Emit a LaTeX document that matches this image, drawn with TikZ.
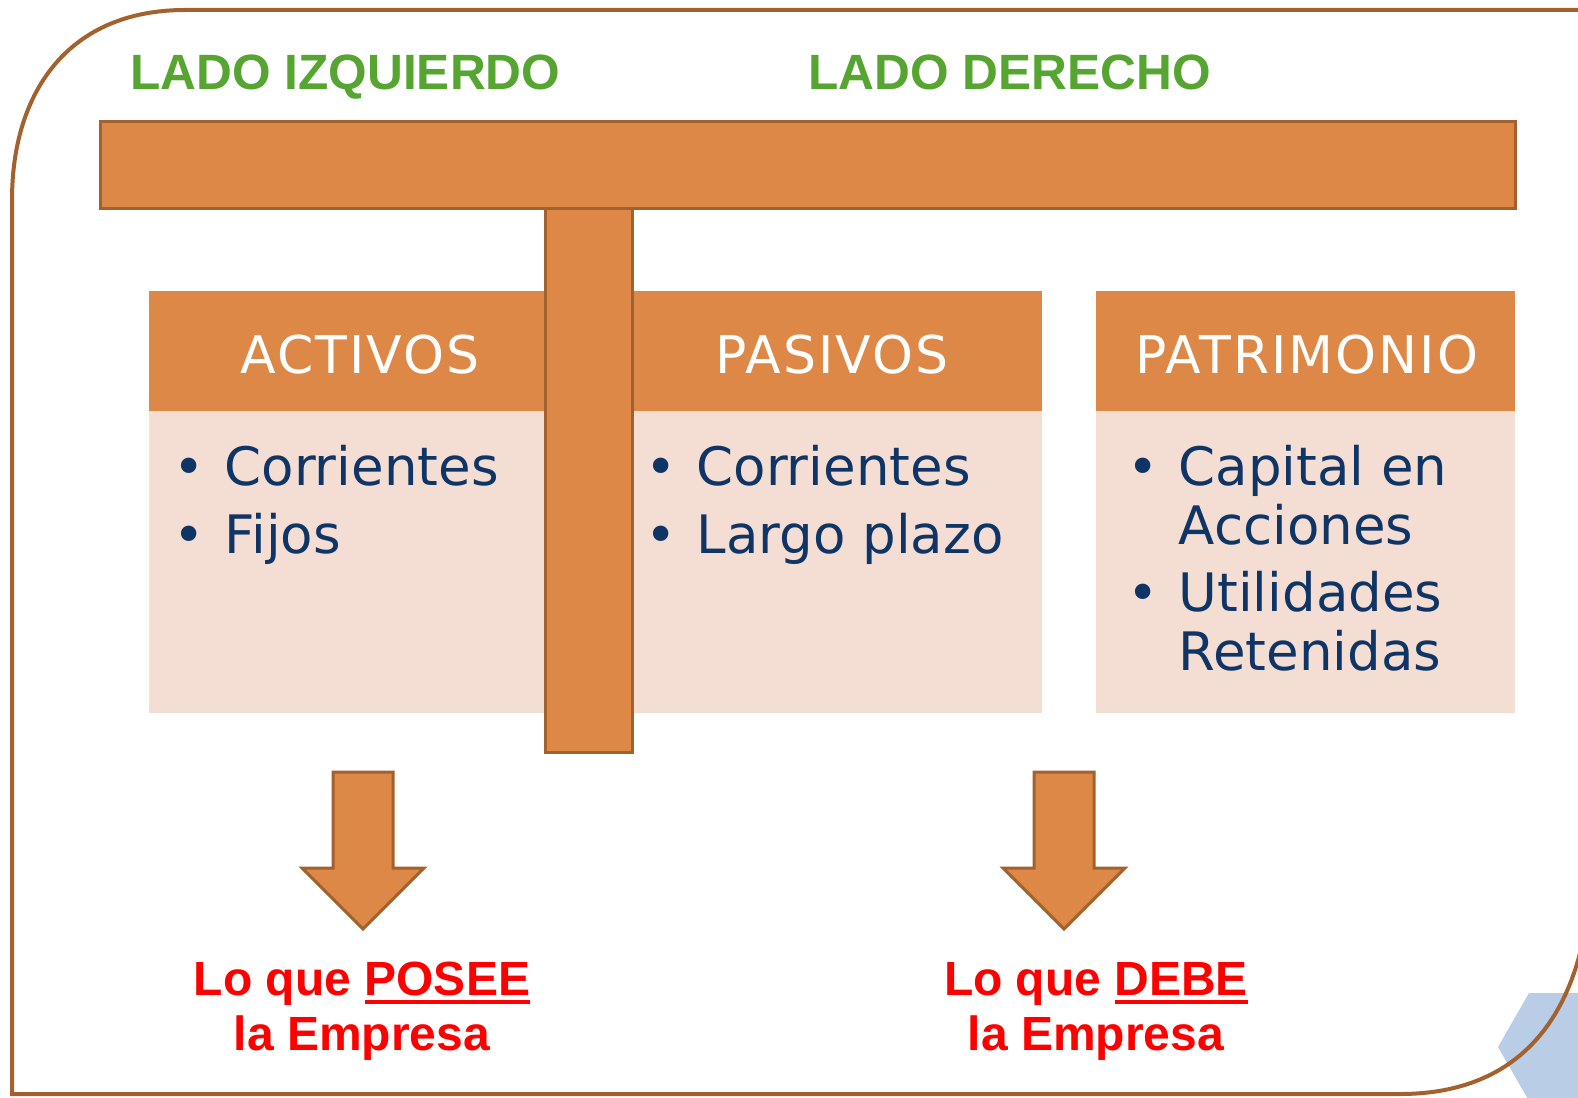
\documentclass[tikz,border=0pt]{standalone}
\usepackage{fontspec}
\setmainfont{DejaVu Sans}
\newfontfamily\arialfont{Liberation Sans}
\newfontfamily\anchafont[LetterSpace=4]{DejaVu Sans}
\definecolor{naranja}{HTML}{DD8847}
\definecolor{marron}{HTML}{A3612D}
\definecolor{rosado}{HTML}{F4DDD2}
\definecolor{azul}{HTML}{0F3567}
\definecolor{verde}{HTML}{55A530}
\definecolor{celeste}{HTML}{B9CDE6}
\newcommand{\subraya}[1]{\setbox0\hbox{#1}\rlap{\rule[-4.5pt]{\wd0}{2pt}}\box0}
\tikzset{
  barra/.style={fill=naranja, draw=marron, line width=1.5pt},
  marco/.style={draw=marron, line width=2pt},
  cabeza/.style={white, inner sep=0pt, anchor=base, font=\anchafont\fontsize{26}{30}\selectfont},
  lista/.style={azul, inner sep=0pt, anchor=base west, font=\fontsize{26.5}{29.5}\selectfont},
  lado/.style={verde, inner sep=0pt, anchor=base west, font=\arialfont\bfseries\fontsize{24.8}{28}\selectfont},
  nota/.style={red, inner sep=0pt, anchor=base, font=\arialfont\bfseries\fontsize{24}{27.5}\selectfont},
}
\begin{document}
\begin{tikzpicture}[x=0.5pt, y=-0.5pt]
  \useasboundingbox (0,0) rectangle (1578,1097);
  % hexagono de fondo
  \fill[celeste] (1498,1047) -- (1529,993) -- (1591,993) -- (1622,1047) -- (1591,1101) -- (1529,1101) -- cycle;
  % marco
  \draw[marco] (1590,10) -- (185,10) .. controls (70,10) and (12,90) .. (12,200) -- (12,1094)
    -- (1400,1094) .. controls (1500,1094) and (1560,1040) .. (1582,945);

  % titulos
  \node[lado] (izq) at (130,90) {LADO IZQUIERDO};
  \node[lado] (der) at (808,90) {LADO DERECHO};

  % cajas
  \foreach \a/\b in {149/571, 622/1042, 1096/1515} {
    \fill[naranja] (\a,291) rectangle (\b,411);
    \fill[rosado] (\a,411) rectangle (\b,713);
  }
  \node[cabeza] (h1) at (360,373) {ACTIVOS};
  \node[cabeza] (h2) at (832,373) {PASIVOS};
  \node[cabeza] (h3) at (1307,373) {PATRIMONIO};

  \node[lista] (l1) at (173,485) {\begin{tabular}[t]{@{}l@{\hspace{10pt}}l@{}}
    • & Corrientes\\[4.5pt] • & Fijos\end{tabular}};
  \node[lista] (l2) at (645,485) {\begin{tabular}[t]{@{}l@{\hspace{10pt}}l@{}}
    • & Corrientes\\[4.5pt] • & Largo plazo\end{tabular}};
  \node[lista] (l3) at (1127,485) {\begin{tabular}[t]{@{}l@{\hspace{10pt}}l@{}}
    • & Capital en\\ & Acciones\\[4pt] • & Utilidades\\ & Retenidas\end{tabular}};

  % la T
  \draw[barra] (545,200) rectangle (632,752);
  \draw[barra] (100,122) rectangle (1515,208);

  % flechas
  \foreach \x in {363,1064}
    \draw[barra] (\x-30,772) -- (\x+30,772) -- (\x+30,868) -- (\x+61,868) -- (\x,929)
      -- (\x-61,868) -- (\x-30,868) -- cycle;

  \node[nota] (posee) at (362,995) {\begin{tabular}[t]{@{}c@{}}
    Lo que \subraya{POSEE}\\ la Empresa\end{tabular}};
  \node[nota] (debe) at (1096,995) {\begin{tabular}[t]{@{}c@{}}
    Lo que \subraya{DEBE}\\ la Empresa\end{tabular}};
\end{tikzpicture}
\end{document}
